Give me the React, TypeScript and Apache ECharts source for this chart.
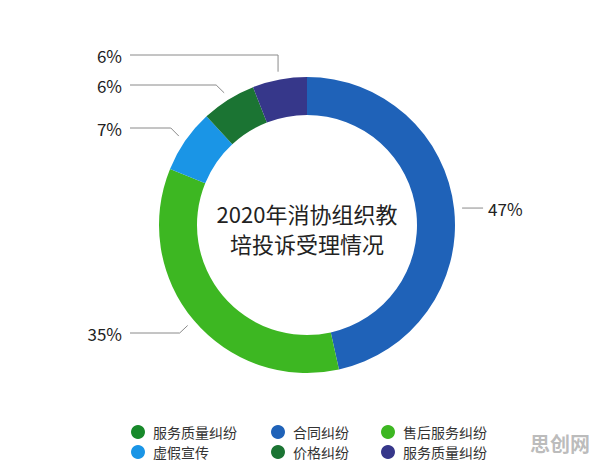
import React, { useEffect, useRef } from "react";
import * as echarts from "echarts";

const categories = ["合同纠纷", "售后服务纠纷", "虚假宣传", "价格纠纷", "服务质量纠纷"];
const values = [47, 35, 7, 6, 6];
const colors = ["#1f62b8", "#3db722", "#1a95e6", "#1b7433", "#36378a"];
const titleText = "2020年消协组织教\n培投诉受理情况";
const legendCol1 = ["服务质量纠纷", "虚假宣传"];
const legendCol2 = ["合同纠纷", "价格纠纷"];
const legendCol3 = ["售后服务纠纷", "服务质量纠纷"];
const extraLegendColor = "#17892a";

const FONT = '"Noto Sans CJK SC", "Noto Sans", sans-serif';
const LEFT_LABEL_Y: Record<number, number> = { 1: 333, 2: 128, 3: 85, 4: 55 };
const GAP = 8;

export default function App() {
  const ref = useRef<HTMLDivElement>(null);
  useEffect(() => {
    if (!ref.current) return;
    const chart = echarts.init(ref.current, null, { renderer: "svg" });
    const legendBase = {
      orient: "vertical",
      top: 420,
      icon: "circle",
      itemWidth: 14,
      itemHeight: 14,
      itemGap: 6,
      selectedMode: false,
      textStyle: { fontSize: 14, color: "#333", fontFamily: FONT, padding: [0, 0, 0, 3] },
    };
    chart.setOption({
      animation: false,
      backgroundColor: "#fff",
      color: colors,
      legend: [
        {
          ...legendBase,
          left: 126,
          data: [
            { name: legendCol1[0], itemStyle: { color: extraLegendColor } },
            legendCol1[1],
          ],
        },
        { ...legendBase, left: 266, data: legendCol2 },
        { ...legendBase, left: 376, data: legendCol3 },
      ],
      graphic: [
        {
          type: "text",
          x: 307,
          y: 228,
          style: {
            text: titleText,
            font: `22px ${FONT}`,
            fill: "#222",
            align: "center",
            verticalAlign: "middle",
            lineHeight: 30,
          },
        },
        {
          type: "text",
          x: 560,
          y: 443,
          style: {
            text: "思创网",
            font: `bold 20px ${FONT}`,
            fill: "rgba(130,130,130,0.55)",
            align: "center",
            verticalAlign: "middle",
          },
        },
      ],
      series: [
        {
          type: "pie",
          center: [307, 225],
          radius: [110, 148],
          startAngle: 90,
          clockwise: true,
          avoidLabelOverlap: false,
          emphasis: { disabled: true },
          data: categories.map((name, i) => ({ name, value: values[i] })),
          label: {
            show: true,
            formatter: "{c}%",
            fontSize: 17,
            color: "#222",
            fontFamily: FONT,
          },
          labelLine: {
            show: true,
            length: 10,
            length2: 10,
            lineStyle: { color: "#8a8a8a", width: 1 },
          },
          labelLayout: (params: any) => {
            const i = params.dataIndex;
            const pts = params.labelLinePoints;
            if (!pts || pts.length < 2) return {};
            const p0 = pts[0];
            const p1 = pts[1];
            const dx = p1[0] - p0[0];
            const dy = p1[1] - p0[1];
            const len = Math.hypot(dx, dy) || 1;
            const sx = p0[0] + (dx / len) * GAP;
            const sy = p0[1] + (dy / len) * GAP;
            if (i === 0) {
              return {
                x: sx + 26,
                y: sy,
                align: "left",
                verticalAlign: "middle",
                labelLinePoints: [
                  [sx, sy],
                  [sx, sy],
                  [sx + 21, sy],
                ],
              };
            }
            const ly = LEFT_LABEL_Y[i];
            const midX = i === 4 ? sx : sx - 8;
            return {
              x: 122,
              y: ly,
              align: "right",
              verticalAlign: "middle",
              labelLinePoints: [
                [sx, sy],
                [midX, ly],
                [130, ly],
              ],
            };
          },
        },
      ],
    });
    return () => chart.dispose();
  }, []);
  return (
    <div
      ref={ref}
      style={{ position: "absolute", left: 0, top: 0, width: 596, height: 466 }}
    />
  );
}
